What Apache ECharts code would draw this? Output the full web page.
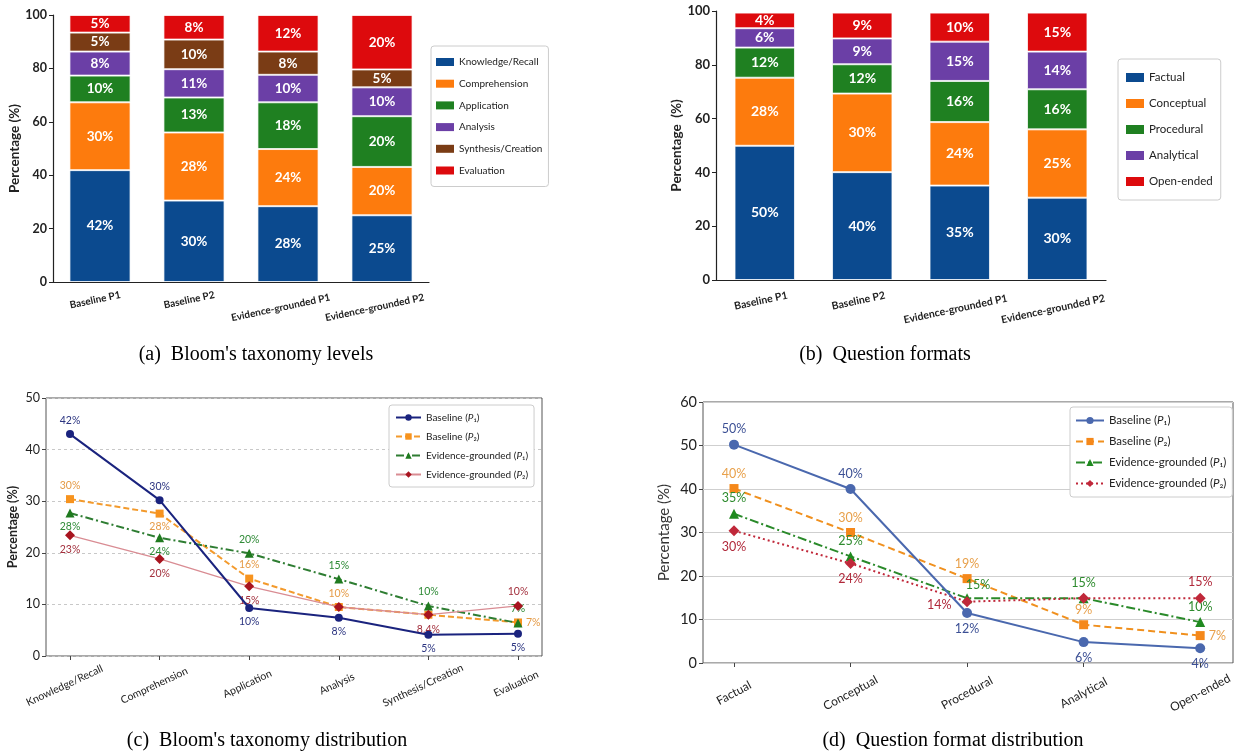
<!DOCTYPE html>
<html><head><meta charset="utf-8">
<script src="https://cdn.jsdelivr.net/npm/echarts@6/dist/echarts.min.js"></script>
<style>html,body{margin:0;padding:0;background:#fff}#c{width:1235px;height:753px}</style>
</head><body><div id="c"></div>
<script>
// ---------- data ----------
const groups = ['Baseline P1', 'Baseline P2', 'Evidence-grounded P1', 'Evidence-grounded P2'];
const bloomLevels = ['Knowledge/Recall', 'Comprehension', 'Application', 'Analysis', 'Synthesis/Creation', 'Evaluation'];
const formats = ['Factual', 'Conceptual', 'Procedural', 'Analytical', 'Open-ended'];

// (a) segment heights
const aKnowledge     = [41.9, 30.5, 28.4, 25.0];
const aComprehension = [25.4, 25.5, 21.4, 18.1];
const aApplication   = [10.0, 13.1, 17.5, 19.0];
const aAnalysis      = [9.0, 10.6, 10.3, 10.8];
const aSynthesis     = [7.1, 11.1, 8.7, 6.7];
const aEvaluation    = [6.6, 9.2, 13.7, 20.4];
// (a) printed labels
const aKnowledgeLbl     = ['42%', '30%', '28%', '25%'];
const aComprehensionLbl = ['30%', '28%', '24%', '20%'];
const aApplicationLbl   = ['10%', '13%', '18%', '20%'];
const aAnalysisLbl      = ['8%', '11%', '10%', '10%'];
const aSynthesisLbl     = ['5%', '10%', '8%', '5%'];
const aEvaluationLbl    = ['5%', '8%', '12%', '20%'];

// (b) segment heights
const bFactual    = [49.9, 40.1, 35.1, 30.6];
const bConceptual = [25.3, 29.2, 23.6, 25.4];
const bProcedural = [11.2, 10.9, 15.3, 14.9];
const bAnalytical = [7.2, 9.6, 14.6, 14.0];
const bOpenEnded  = [5.8, 9.6, 10.8, 14.5];
// (b) printed labels
const bFactualLbl    = ['50%', '40%', '35%', '30%'];
const bConceptualLbl = ['28%', '30%', '24%', '25%'];
const bProceduralLbl = ['12%', '12%', '16%', '16%'];
const bAnalyticalLbl = ['6%', '9%', '15%', '14%'];
const bOpenEndedLbl  = ['4%', '9%', '10%', '15%'];

// (c) line values
const cBaseP1 = [43.0, 30.2, 9.3, 7.4, 4.1, 4.3];
const cBaseP2 = [30.4, 27.6, 15.0, 9.5, 8.0, 6.5];
const cEvidP1 = [27.7, 22.9, 19.9, 14.9, 9.7, 6.4];
const cEvidP2 = [23.4, 18.8, 13.5, 9.5, 8.0, 9.7];
const cBaseP1Lbl = ['42%', '30%', '10%', '8%', '5%', '5%'];
const cBaseP2Lbl = ['30%', '28%', '16%', '10%', '', '7%'];
const cEvidP1Lbl = ['28%', '24%', '20%', '15%', '10%', '7%'];
const cEvidP2Lbl = ['23%', '20%', '15%', '', '8.4%', '10%'];

// (d) line values
const dBaseP1 = [50.2, 40.0, 11.5, 4.8, 3.4];
const dBaseP2 = [40.1, 30.0, 19.4, 8.8, 6.3];
const dEvidP1 = [34.3, 24.5, 14.9, 14.9, 9.4];
const dEvidP2 = [30.4, 22.9, 14.1, 14.9, 14.9];
const dBaseP1Lbl = ['50%', '40%', '12%', '6%', '4%'];
const dBaseP2Lbl = ['40%', '30%', '19%', '9%', '7%'];
const dEvidP1Lbl = ['35%', '25%', '15%', '15%', '10%'];
const dEvidP2Lbl = ['30%', '24%', '14%', '', '15%'];

// ---------- layout / style (not data) ----------
const FF = 'Lato, "Noto Sans", sans-serif';
const SERIF = '"Liberation Serif", "DejaVu Serif", serif';
const INK = '#222';

const cPlace = {
  b1: ['top', 'top', 'bottom', 'bottom', 'bottom', 'bottom'],
  b2: ['top', 'bottom', 'top', 'top', 'top', 'right'],
  e1: ['bottom', 'bottom', 'top', 'top', 'top', 'top'],
  e2: ['bottom', 'bottom', 'bottom', 'top', 'bottom', 'top']
};
const dPlace = {
  b1: ['top', 'top', 'bottom', 'bottom', 'bottom'],
  b2: ['top', 'top', 'top', 'top', 'right'],
  e1: ['top', 'top', 'top', 'top', 'top'],
  e2: ['bottom', 'bottom', 'left', 'top', 'top']
};
const dOffset = { e1: [null, null, [11, 2], null, null], e2: [null, null, [-6, 3], null, null] };

const aColors = ['#0b4a8f', '#fd7b0d', '#1f8021', '#6b3fa6', '#7a3c15', '#dd0a0d'];
const bColors = ['#0b4a8f', '#fd7b0d', '#1f8021', '#6b3fa6', '#dd0a0d'];

function barSeries(name, values, labels, color, stack, axis, size) {
  return {
    type: 'bar', name, stack, xAxisIndex: axis, yAxisIndex: axis,
    barWidth: axis === 0 ? '65%' : '62%',
    data: values,
    itemStyle: { color, borderColor: 'rgba(255,255,255,0.75)', borderWidth: 1 },
    label: { show: true, position: 'inside', color: '#fff', fontWeight: 'bold',
      fontFamily: FF, fontSize: size, formatter: p => labels[p.dataIndex] }
  };
}

function lineSeries(name, values, labels, places, offsets, axis, o) {
  return {
    type: 'line', name, xAxisIndex: axis, yAxisIndex: axis,
    symbol: o.symbol, symbolSize: o.size, z: o.z || 3,
    lineStyle: { color: o.line, width: o.width, type: o.dash },
    itemStyle: { color: o.marker },
    data: values.map((v, i) => {
      const lab = { show: labels[i] !== '', position: places[i] };
      if (offsets && offsets[i]) lab.offset = offsets[i];
      return { value: v, label: lab };
    }),
    label: { color: o.text, fontSize: o.fs, fontFamily: FF, distance: 4,
      formatter: p => labels[p.dataIndex] }
  };
}

const series = [];
[[aKnowledge, aKnowledgeLbl], [aComprehension, aComprehensionLbl], [aApplication, aApplicationLbl],
 [aAnalysis, aAnalysisLbl], [aSynthesis, aSynthesisLbl], [aEvaluation, aEvaluationLbl]]
  .forEach((d, i) => series.push(barSeries(bloomLevels[i], d[0], d[1], aColors[i], 'a', 0, 13.5)));
[[bFactual, bFactualLbl], [bConceptual, bConceptualLbl], [bProcedural, bProceduralLbl],
 [bAnalytical, bAnalyticalLbl], [bOpenEnded, bOpenEndedLbl]]
  .forEach((d, i) => series.push(barSeries(formats[i], d[0], d[1], bColors[i], 'b', 1, 14)));

const cNames = ['c|Baseline (P1)', 'c|Baseline (P2)', 'c|Evidence-grounded (P1)', 'c|Evidence-grounded (P2)'];
series.push(lineSeries(cNames[0], cBaseP1, cBaseP1Lbl, cPlace.b1, null, 3,
  { symbol: 'circle', size: 8, line: '#1a237e', marker: '#1a237e', width: 2, dash: 'solid', text: '#2b3480', fs: 10.5, z: 5 }));
series.push(lineSeries(cNames[1], cBaseP2, cBaseP2Lbl, cPlace.b2, null, 3,
  { symbol: 'rect', size: 8, line: '#f39a2c', marker: '#f7931e', width: 2, dash: [6, 3], text: '#e59a45', fs: 10.5 }));
series.push(lineSeries(cNames[2], cEvidP1, cEvidP1Lbl, cPlace.e1, null, 3,
  { symbol: 'triangle', size: 9, line: '#2e7d32', marker: '#1f7a1f', width: 2, dash: [8, 3, 2, 3], text: '#2e8a36', fs: 10.5 }));
series.push(lineSeries(cNames[3], cEvidP2, cEvidP2Lbl, cPlace.e2, null, 3,
  { symbol: 'diamond', size: 10, line: '#d98c93', marker: '#a8141f', width: 1.3, dash: 'solid', text: '#a3303d', fs: 10.5, z: 4 }));

const dNames = ['d|Baseline (P1)', 'd|Baseline (P2)', 'd|Evidence-grounded (P1)', 'd|Evidence-grounded (P2)'];
series.push(lineSeries(dNames[0], dBaseP1, dBaseP1Lbl, dPlace.b1, null, 5,
  { symbol: 'circle', size: 10, line: '#4a68ae', marker: '#4a68ae', width: 2, dash: 'solid', text: '#3b4f94', fs: 12.5, z: 5 }));
series.push(lineSeries(dNames[1], dBaseP2, dBaseP2Lbl, dPlace.b2, null, 5,
  { symbol: 'rect', size: 9, line: '#f0901e', marker: '#f5881a', width: 2, dash: [7, 4], text: '#e8a04a', fs: 12.5 }));
series.push(lineSeries(dNames[2], dEvidP1, dEvidP1Lbl, dPlace.e1, dOffset.e1, 5,
  { symbol: 'triangle', size: 10, line: '#2a8a2a', marker: '#208a20', width: 2, dash: [9, 3, 2, 3], text: '#2e8b2e', fs: 12.5 }));
series.push(lineSeries(dNames[3], dEvidP2, dEvidP2Lbl, dPlace.e2, dOffset.e2, 5,
  { symbol: 'diamond', size: 11, line: '#c0283a', marker: '#c0283a', width: 2, dash: [2, 3], text: '#b0283a', fs: 12.5, z: 4 }));

function legendText(n) {
  const s = n.split('|')[1];
  return s.replace(/\(P(\d)\)/, (m, d) => '({it|P}' + (d === '1' ? '\u2081' : '\u2082') + ')');
}

function catLabel(rot, margin, fs, bold, padLong, padShort) {
  const w = bold ? 'bold' : 'normal';
  return {
    rotate: rot, align: 'center', verticalAlign: 'middle', margin, color: INK,
    fontFamily: FF, fontSize: fs, fontWeight: w,
    formatter: v => (v.length > 12 ? '{l|' + v + '}' : '{s|' + v + '}'),
    rich: {
      l: { padding: padLong, fontFamily: FF, fontSize: fs, fontWeight: w, color: INK },
      s: { padding: padShort, fontFamily: FF, fontSize: fs, fontWeight: w, color: INK }
    }
  };
}

const blackLine = { show: true, lineStyle: { color: '#222', width: 1.2 } };
const captionStyle = { fontFamily: SERIF, fontSize: 20, fontWeight: 'normal', color: '#000' };

const option = {
  animation: false,
  backgroundColor: '#fff',
  textStyle: { fontFamily: FF },
  title: [
    { text: "(a)  Bloom's taxonomy levels", left: 251, top: 340, textAlign: 'center', textStyle: captionStyle },
    { text: '(b)  Question formats', left: 880, top: 340, textAlign: 'center', textStyle: captionStyle },
    { text: "(c)  Bloom's taxonomy distribution", left: 262, top: 726, textAlign: 'center', textStyle: captionStyle },
    { text: '(d)  Question format distribution', left: 948, top: 726, textAlign: 'center', textStyle: captionStyle }
  ],
  legend: [
    { data: bloomLevels, orient: 'vertical', left: 431, top: 46, icon: 'rect',
      itemWidth: 18, itemHeight: 8, itemGap: 7.7, padding: [9, 6, 9, 5],
      borderColor: '#ccc', borderWidth: 1, borderRadius: 3, backgroundColor: '#fff',
      itemStyle: { borderWidth: 0 },
      textStyle: { fontFamily: FF, fontSize: 10, color: INK, lineHeight: 14 } },
    { data: formats, orient: 'vertical', left: 1118, top: 59, icon: 'rect',
      itemWidth: 18, itemHeight: 9, itemGap: 11, padding: [11, 8, 11, 8],
      borderColor: '#ccc', borderWidth: 1, borderRadius: 3, backgroundColor: '#fff',
      itemStyle: { borderWidth: 0 },
      textStyle: { fontFamily: FF, fontSize: 11.5, color: INK, lineHeight: 15 } },
    { data: cNames, orient: 'vertical', left: 389, top: 405, itemWidth: 25, itemHeight: 8,
      itemGap: 6, padding: [6, 6, 6, 6], borderColor: '#ccc', borderWidth: 1, borderRadius: 3,
      backgroundColor: '#fff', formatter: legendText,
      textStyle: { fontFamily: FF, fontSize: 10, color: INK, lineHeight: 13,
        rich: { it: { fontStyle: 'italic', fontFamily: FF, fontSize: 10, color: INK } } } },
    { data: dNames, orient: 'vertical', left: 1070, top: 407, itemWidth: 28, itemHeight: 9,
      itemGap: 6, padding: [6, 6, 6, 5], borderColor: '#ccc', borderWidth: 1, borderRadius: 3,
      backgroundColor: '#fff', formatter: legendText,
      textStyle: { fontFamily: FF, fontSize: 11.5, color: INK, lineHeight: 15,
        rich: { it: { fontStyle: 'italic', fontFamily: FF, fontSize: 11.5, color: INK } } } }
  ],
  grid: [
    { left: 53, top: 15, width: 376, height: 267 },
    { left: 716, top: 11, width: 390, height: 269 },
    { left: 46, top: 398, width: 496, height: 258, show: true, borderColor: '#555', borderWidth: 1, backgroundColor: 'transparent' },
    { left: 70, top: 398, width: 448, height: 258 },
    { left: 703, top: 402, width: 530, height: 261, show: true, borderColor: '#555', borderWidth: 1, backgroundColor: 'transparent' },
    { left: 734, top: 402, width: 473, height: 261 }
  ],
  xAxis: [
    { gridIndex: 0, type: 'category', data: groups, axisLine: blackLine,
      axisTick: { alignWithLabel: true, lineStyle: { color: '#222' } },
      axisLabel: catLabel(12, 17, 10, true, [14, 18, 0, 0], [0, 10, 0, 0]) },
    { gridIndex: 1, type: 'category', data: groups, axisLine: blackLine,
      axisTick: { alignWithLabel: true, lineStyle: { color: '#222' } },
      axisLabel: catLabel(12, 20, 10.5, true, [16, 12, 0, 0], [0, 8, 0, 0]) },
    { gridIndex: 2, type: 'value', show: false, min: 0, max: 1 },
    { gridIndex: 3, type: 'category', data: bloomLevels, boundaryGap: false,
      axisLine: { show: false }, axisTick: { show: true, length: 4, lineStyle: { color: '#444' } },
      axisLabel: catLabel(25, 27, 10.5, false, [0, 12, 0, 0], [0, 4, 0, 0]) },
    { gridIndex: 4, type: 'value', show: false, min: 0, max: 1 },
    { gridIndex: 5, type: 'category', data: formats, boundaryGap: false,
      axisLine: { show: false }, axisTick: { show: true, length: 4, lineStyle: { color: '#444' } },
      axisLabel: catLabel(28, 30, 12, false, [0, 0, 0, 0], [0, 0, 0, 0]) }
  ],
  yAxis: [
    { gridIndex: 0, type: 'value', min: 0, max: 100, interval: 20, axisLine: blackLine,
      axisTick: { show: true, length: 4, lineStyle: { color: '#222' } }, splitLine: { show: false },
      axisLabel: { color: INK, fontWeight: 'bold', fontSize: 12.5, fontFamily: FF, margin: 6 },
      name: 'Percentage (%)', nameLocation: 'middle', nameGap: 31,
      nameTextStyle: { color: INK, fontWeight: 'bold', fontSize: 13.5, fontFamily: FF } },
    { gridIndex: 1, type: 'value', min: 0, max: 100, interval: 20, axisLine: blackLine,
      axisTick: { show: true, length: 4, lineStyle: { color: '#222' } }, splitLine: { show: false },
      axisLabel: { color: INK, fontWeight: 'bold', fontSize: 13, fontFamily: FF, margin: 6 },
      name: 'Percentage  (%)', nameLocation: 'middle', nameGap: 30,
      nameTextStyle: { color: INK, fontWeight: 'bold', fontSize: 13.5, fontFamily: FF } },
    { gridIndex: 2, type: 'value', min: 0, max: 50, interval: 10,
      axisLine: { show: false }, axisTick: { show: true, length: 4, lineStyle: { color: '#444' } },
      splitLine: { show: true, lineStyle: { color: '#c8c8c8', type: [3, 3], width: 1 } },
      axisLabel: { color: INK, fontSize: 12.5, fontFamily: FF, margin: 6 },
      name: 'Percentage (%)', nameLocation: 'middle', nameGap: 27,
      nameTextStyle: { color: INK, fontWeight: 'bold', fontSize: 12.5, fontFamily: FF } },
    { gridIndex: 3, type: 'value', min: 0, max: 50, show: false },
    { gridIndex: 4, type: 'value', min: 0, max: 60, interval: 10,
      axisLine: { show: false }, axisTick: { show: true, length: 4, lineStyle: { color: '#444' } },
      splitLine: { show: true, lineStyle: { color: '#cfcfcf', width: 1 } },
      axisLabel: { color: INK, fontSize: 14.5, fontFamily: FF, margin: 6 },
      name: 'Percentage (%)', nameLocation: 'middle', nameGap: 31,
      nameTextStyle: { color: '#333', fontSize: 15, fontFamily: FF } },
    { gridIndex: 5, type: 'value', min: 0, max: 60, show: false }
  ],
  series
};

const chart = echarts.init(document.getElementById('c'), null, { renderer: 'canvas' });
chart.setOption(option);
</script>
</body></html>
